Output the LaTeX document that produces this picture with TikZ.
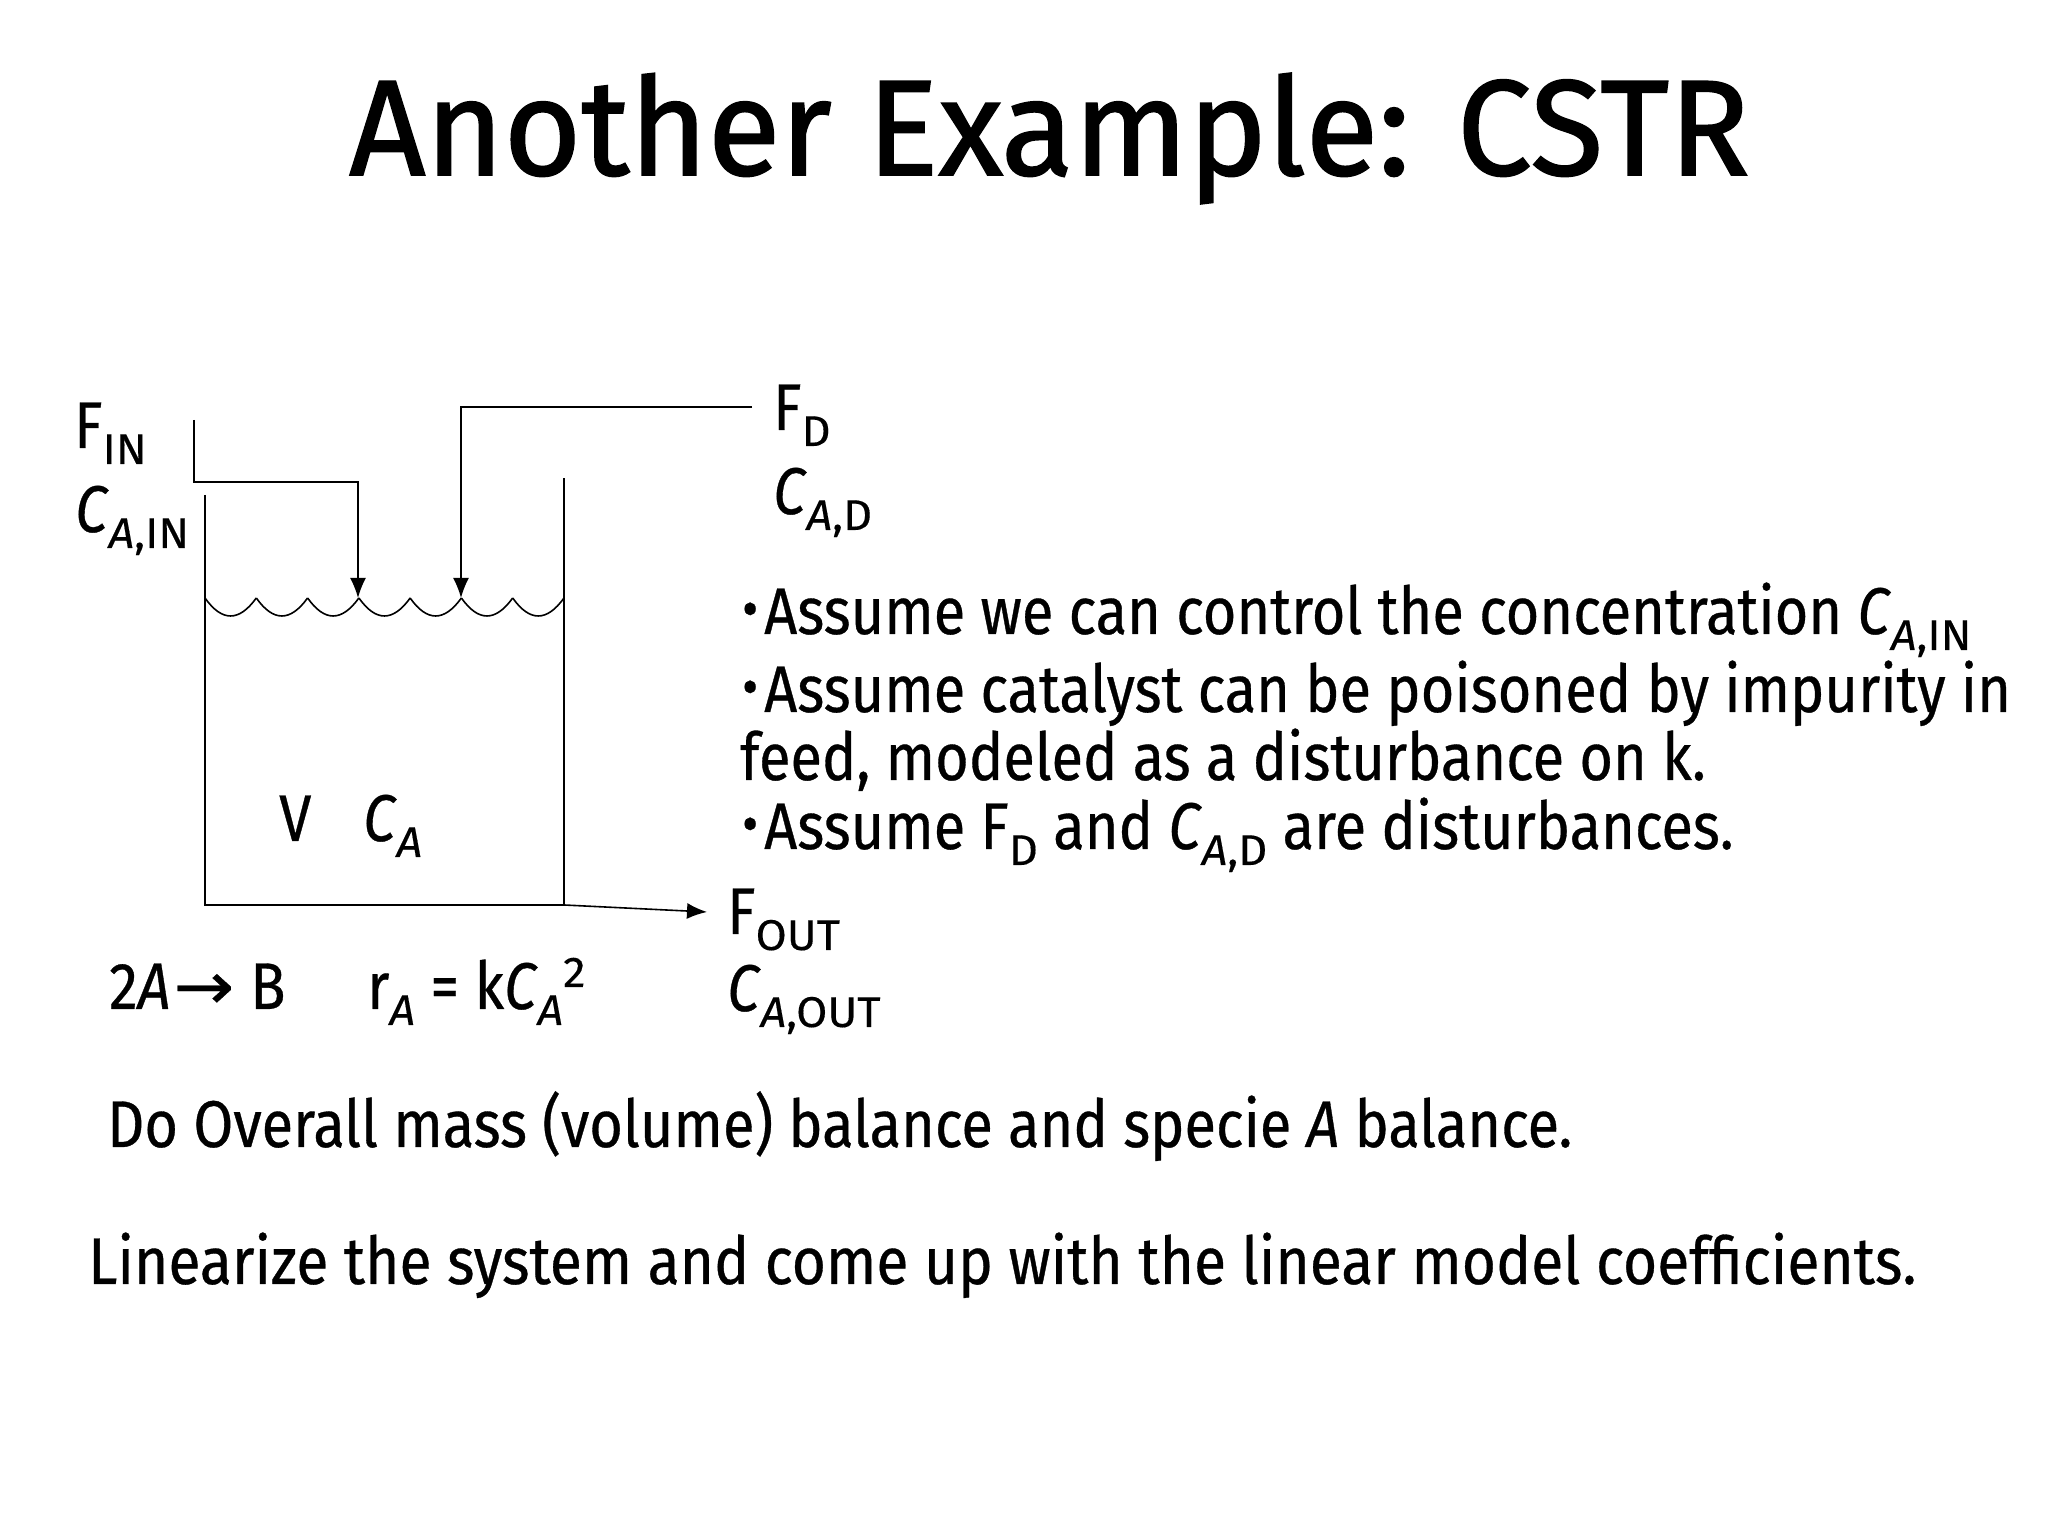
\documentclass[tikz,border=0pt]{standalone}
\usepackage{fontspec}
\setmainfont[FakeStretch=0.875,FakeBold=0.5]{Fira Sans}
\newfontfamily\titlefont[FakeStretch=0.98,FakeBold=1.2]{Fira Sans}
\newfontfamily\subfont[FakeStretch=1.05,FakeBold=0.3]{Fira Sans}
\newfontfamily\widefont[FakeStretch=0.89,FakeBold=0.5]{Fira Sans}
\newfontfamily\arrowfont[FakeStretch=1.1,FakeBold=0.5]{DejaVu Sans}
\usetikzlibrary{arrows.meta}
\newcommand{\lowtxt}[1]{\raisebox{-16bp}{\subfont\fontsize{43bp}{43bp}\selectfont #1}}
\newcommand{\upbullet}{\makebox[22bp][l]{\raisebox{6bp}{\fontsize{56bp}{56bp}\selectfont\textbullet}}}
\tikzset{
  bodytext/.style={anchor=base west,inner sep=0pt,font=\fontsize{66bp}{66bp}\selectfont},
  titletext/.style={anchor=base west,inner sep=0pt,font=\titlefont\fontsize{136bp}{136bp}\selectfont},
  flowline/.style={black,line width=1.6bp},
  flowarrow/.style={flowline,-{Latex[length=20bp,width=16bp]}},
}
\begin{document}
\begin{tikzpicture}[x=1bp,y=1bp]
\useasboundingbox (0,0) rectangle (2048,1536);
%%
\node (title) at (349,1361) [titletext] {Another Example: CSTR};
\node (f_in) at (74,1088) [bodytext] {F\lowtxt{IN}};
\node (c_in) at (75,1004) [bodytext] {\textit{C}\lowtxt{\textit{A},IN}};
\node (f_d) at (773,1106) [bodytext] {F\lowtxt{D}};
\node (c_d) at (773,1022) [bodytext] {\textit{C}\lowtxt{\textit{A},D}};
\node (vol) at (279,695) [bodytext] {V};
\node (c_a) at (363,695) [bodytext] {\textit{C}\lowtxt{\textit{A}}};
\node (f_out) at (727,602) [bodytext] {F\lowtxt{OUT}};
\node (c_out) at (727,525) [bodytext] {\textit{C}\lowtxt{\textit{A},OUT}};
\node (react) at (109,527) [bodytext] {2\textit{A}\hspace{3bp}{\arrowfont →}\hspace{16bp}B};
\node (rate) at (367,527) [bodytext] {r\lowtxt{\textit{A}} = k\textit{C}\lowtxt{\textit{A}}\raisebox{22bp}{\subfont\fontsize{43bp}{43bp}\selectfont 2}};
\node (note_a) at (742,902) [bodytext] {\upbullet Assume we can control the concentration \textit{C}\lowtxt{\textit{A},IN}};
\node (note_b) at (742,824) [bodytext] {\upbullet Assume catalyst can be poisoned by impurity in};
\node (note_c) at (740,756) [bodytext] {feed, modeled as a disturbance on k.};
\node (note_d) at (742,687) [bodytext] {\upbullet Assume F\lowtxt{D} and \textit{C}\lowtxt{\textit{A},D} are disturbances.};
\node (task_a) at (107,389) [bodytext] {Do Overall mass (volume) balance and specie \textit{A} balance.};
\node (task_b) at (88,252) [bodytext] {\widefont Linearize the system and come up with the linear model coefficients.};
%
\coordinate (in_start) at (194,1116);
\coordinate (in_bend) at (194,1054);
\coordinate (in_turn) at (358,1054);
\coordinate (in_tip) at (358,938);
\coordinate (d_start) at (752,1129);
\coordinate (d_turn) at (461,1129);
\coordinate (d_tip) at (461,938);
\coordinate (tank_tl) at (205,1041);
\coordinate (tank_bl) at (205,631);
\coordinate (tank_br) at (564,631);
\coordinate (tank_tr) at (564,1058);
\coordinate (out_tip) at (707,624);
%
\draw [flowarrow] (in_start) -- (in_bend) -- (in_turn) -- (in_tip);
\draw [flowarrow] (d_start) -- (d_turn) -- (d_tip);
\draw [flowline] (tank_tl) -- (tank_bl) -- (tank_br) -- (tank_tr);
\draw [flowarrow] (tank_br) -- (out_tip);
\foreach \xa in {205,256.3,307.6,358.9,410.1,461.4,512.7}
  \draw [flowline] (\xa,938) ..controls (\xa+17,914) and (\xa+34,914) .. (\xa+51.3,938);
%
\end{tikzpicture}
\end{document}
